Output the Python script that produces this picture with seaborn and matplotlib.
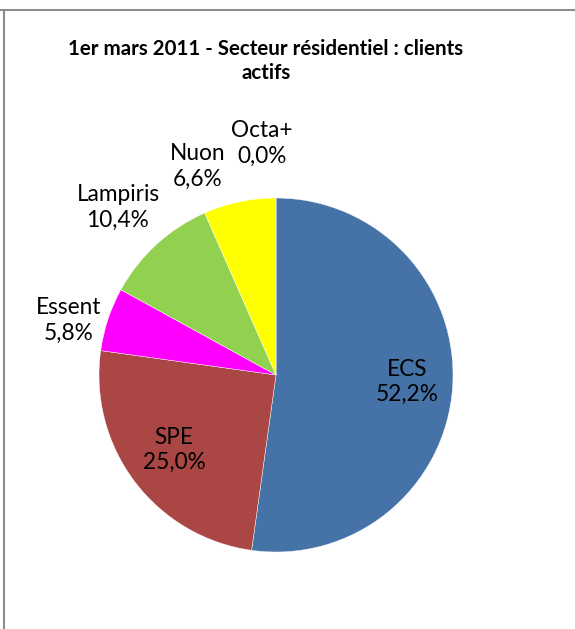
import matplotlib
matplotlib.use("Agg")
import matplotlib.pyplot as plt
from matplotlib.lines import Line2D
import seaborn as sns
import numpy as np

# data
fournisseurs = ["ECS", "SPE", "Essent", "Lampiris", "Nuon", "Octa+"]
parts = [52.2, 25.0, 5.8, 10.4, 6.6, 0.0]
couleurs = ["#4572A7", "#AA4643", "#FF00FF", "#92D050", "#FFFF00", "#E0A060"]
titre = "1er mars 2011 - Secteur résidentiel : clients\nactifs"

# label placement: (distance in radii, angle nudge in degrees)
placement = {
    "ECS": (0.74, 0.9),
    "SPE": (0.715, -0.75),
    "Essent": (1.21, 3.5),
    "Lampiris": (1.30, 0.9),
    "Nuon": (1.26, 8.8),
    "Octa+": (1.31, 3.45),
}

sns.set_theme(style="white")
plt.rcParams['font.family'] = ['Lato', 'DejaVu Sans']

W, H = 575, 629
fig = plt.figure(figsize=(W / 100, H / 100), dpi=100)
ax = fig.add_axes([0, 0, 1, 1])

cx, cy, R = 276, 254, 177
wedges, _ = ax.pie(parts, colors=couleurs, startangle=90, counterclock=False,
                   center=(cx, cy), radius=R,
                   wedgeprops=dict(edgecolor="white", linewidth=0.3))
ax.set_xlim(0, W)
ax.set_ylim(0, H)
ax.set_aspect("equal")
ax.axis("off")

for w, nom, val in zip(wedges, fournisseurs, parts):
    d, nudge = placement[nom]
    ang = np.deg2rad((w.theta1 + w.theta2) / 2 + nudge)
    x = cx + d * R * np.cos(ang)
    y = cy + d * R * np.sin(ang)
    ax.text(x, y, f"{nom}\n{val:.1f}%".replace(".", ","), ha="center", va="center",
            fontsize=16.3, color="black", linespacing=1.27)

ax.text(266, H - 61, titre, ha="center", va="center", fontsize=14.8,
        fontweight="bold", color="black", linespacing=1.25)

# chart frame (cropped)
ax.add_line(Line2D([0, W], [H - 10, H - 10], color="#8c8c8c", linewidth=1.5))
ax.add_line(Line2D([4, 4], [0, H - 10], color="#8c8c8c", linewidth=1.5))

fig.savefig("out.png", dpi=100)
